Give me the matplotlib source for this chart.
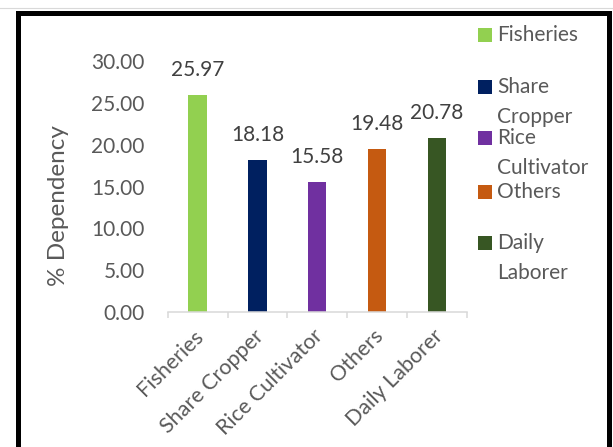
import matplotlib.pyplot as plt
from matplotlib.lines import Line2D
from matplotlib.patches import Rectangle
from matplotlib.transforms import ScaledTranslation

# dependency share per livelihood group
categories = ["Fisheries", "Share Cropper", "Rice Cultivator", "Others", "Daily Laborer"]
dependency = [25.97, 18.18, 15.58, 19.48, 20.78]
colors = ["#92D050", "#002060", "#7030A0", "#C55A11", "#375623"]
legend_labels = ["Fisheries", "Share\nCropper", "Rice\nCultivator", "Others", "Daily\nLaborer"]
y_ticks = [0, 5, 10, 15, 20, 25, 30]

plt.rcParams['font.family'] = ['Lato', 'DejaVu Sans']

W, H = 613, 447
fig = plt.figure(figsize=(W / 100, H / 100), dpi=100)
fig.patch.set_facecolor('white')


def fx(px):
    return px / W


def fy(py):
    return 1 - py / H


ax = fig.add_axes([fx(167.7), fy(312), fx(466.7) - fx(167.7), fy(61.3) - fy(312)])

x = list(range(len(categories)))
ax.bar(x, dependency, width=0.307, color=colors)

for xi, v in zip(x, dependency):
    ax.annotate(f"{v:.2f}", (xi, v), xytext=(0, 18), textcoords='offset points',
                ha='center', va='center', fontsize=15, color='#404040')

ax.set_xlim(-0.5, len(categories) - 0.5)
ax.set_ylim(0, 30)
ax.set_yticks(y_ticks, [f"{t:.2f}" for t in y_ticks])
ax.tick_params(axis='y', length=0, pad=16.5, labelsize=15, labelcolor='#595959')

ax.set_xticks(x, categories, rotation=45, ha='right', va='center', rotation_mode='anchor')
ax.set_xticks([i - 0.5 for i in range(len(categories) + 1)], minor=True)
ax.tick_params(axis='x', which='major', length=0, pad=15, labelsize=15.5, labelcolor='#595959')
ax.tick_params(axis='x', which='minor', length=4.5, width=1.1, color='#d9d9d9', direction='out')
shift = ScaledTranslation(3 / 100, 0, fig.dpi_scale_trans)
for lbl in ax.get_xticklabels():
    lbl.set_transform(lbl.get_transform() + shift)

for side in ['left', 'right', 'top']:
    ax.spines[side].set_visible(False)
ax.spines['bottom'].set_color('#d9d9d9')
ax.spines['bottom'].set_linewidth(1.1)

ax.set_ylabel("% Dependency", fontsize=17.5, color='#595959')
ax.yaxis.set_label_coords((69 - 167.7) / 299, 0.423)

# legend drawn by hand so wrapped names keep the swatch on the first line
entry_y = [35, 86.7, 138.3, 191.7, 243.3]
for ey, col, lab in zip(entry_y, colors, legend_labels):
    fig.add_artist(Rectangle((fx(478), fy(ey + 7)), fx(14), fy(0) - fy(14),
                             transform=fig.transFigure, facecolor=col, edgecolor='none'))
    for k, line in enumerate(lab.split("\n")):
        fig.text(fx(497), fy(ey + 30 * k), line, ha='left', va='center',
                 fontsize=15, color='#595959')

# frame around the chart
fig.add_artist(Line2D([0, 1], [fy(8), fy(8)], transform=fig.transFigure,
                      color='#d9d9d9', linewidth=0.8))
fig.add_artist(Rectangle((fx(18.3), -0.2), fx(609.5) - fx(18.3), fy(12.5) + 0.2,
                         transform=fig.transFigure, fill=False,
                         edgecolor='black', linewidth=3.6, clip_on=False))

fig.savefig("out.png", dpi=100)
